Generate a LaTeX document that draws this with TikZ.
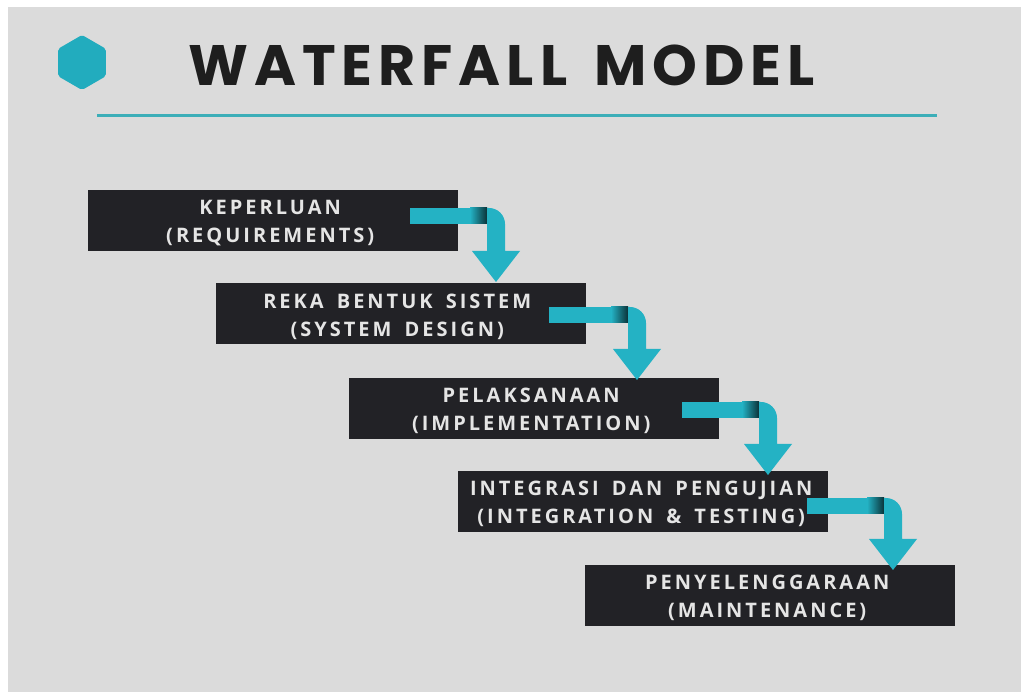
\documentclass[tikz,border=0pt]{standalone}
\usepackage{fontspec}
\setmainfont{Open Sans}
\newfontfamily\titlefont[LetterSpace=10.5,WordSpace=1.5]{Poppins}
\newfontfamily\boxfont[LetterSpace=15,WordSpace=1.6]{Open Sans}
\usetikzlibrary{calc}
\definecolor{bggray}{RGB}{219,219,219}
\definecolor{wfteal}{RGB}{36,178,196}
\definecolor{hexteal}{RGB}{34,172,190}
\definecolor{lineteal}{RGB}{60,174,184}
\definecolor{boxdark}{RGB}{34,34,38}
\definecolor{folddark}{RGB}{10,50,56}
\definecolor{titleink}{RGB}{30,30,30}
\tikzset{
  stepbox/.style={fill=boxdark, draw=none, minimum width=370pt, minimum height=61pt,
    anchor=north west, inner sep=0pt},
  steptext/.style={inner sep=0pt, text=white!90!black, align=center,
    font=\boxfont\bfseries\fontsize{20}{28}\selectfont},
  titletext/.style={font=\titlefont\bfseries\fontsize{57}{60}\selectfont, text=titleink, inner sep=0pt},
}
\newcommand\wfarrow[2]{%
  \fill[wfteal] let \p1=(#1), \p2=(#2) in
    (\x1,\y1) -- (\x2-9pt,\y1) -- (\x2-9pt,\y1-16pt) -- (\x1,\y1-16pt) -- cycle;
  \shade[left color=wfteal, right color=folddark] let \p1=(#1), \p2=(#2) in
    (\x2-26pt,\y1) rectangle (\x2-9pt,\y1-16pt);
  \fill[wfteal] let \p1=(#1), \p2=(#2) in
    (\x2-9pt,\y1) -- (\x2-7pt,\y1) arc[start angle=90, end angle=0, radius=16pt]
    -- (\x2+9pt,\y2+31pt) -- (\x2+24pt,\y2+31pt) -- (\x2,\y2) -- (\x2-24pt,\y2+31pt)
    -- (\x2-9pt,\y2+31pt) -- cycle;
}
\begin{document}
\begin{tikzpicture}[x=1pt,y=1pt]
\useasboundingbox (0,0) rectangle (1021,-692);
\fill[white] (0,0) rectangle (1021,-692);
\fill[bggray] (8,-7) rectangle (1021,-692);
% hexagon
\fill[hexteal, rounded corners=2pt] (82,-35) -- (105.8,-48.75) -- (105.8,-76.25) -- (82,-90) -- (58.2,-76.25) -- (58.2,-48.75) -- cycle;
\node[titletext, anchor=base west] (title) at (188,-86) {WATERFALL MODEL};
\coordinate (ruleL) at (97,-116);
\coordinate (ruleR) at (937,-116);
\draw[lineteal, line width=3pt] (ruleL) -- (ruleR);
% boxes
\node[stepbox] (b1) at (88,-190) {};
\node[stepbox] (b2) at (216,-283) {};
\node[stepbox] (b3) at (349,-378) {};
\node[stepbox] (b4) at (458,-471) {};
\node[stepbox] (b5) at (585,-565) {};
\node[steptext] (t1) at ($(b1.center)+(-3,-2.5)$) {KEPERLUAN\\(REQUIREMENTS)};
\node[steptext] (t2) at ($(b2.center)+(-4,-3)$) {REKA BENTUK SISTEM\\(SYSTEM DESIGN)};
\node[steptext] (t3) at ($(b3.center)+(-3,-2.5)$) {PELAKSANAAN\\(IMPLEMENTATION)};
\node[steptext] (t4) at ($(b4.center)+(-2,-2.5)$) {INTEGRASI DAN PENGUJIAN\\(INTEGRATION \& TESTING)};
\node[steptext] (t5) at ($(b5.center)+(-3,-2.5)$) {PENYELENGGARAAN\\(MAINTENANCE)};
% arrow anchors
\coordinate (a1s) at ($(b1.north east)+(-48,-18)$);
\coordinate (a1t) at ($(b2.north west)+(280,1)$);
\coordinate (a2s) at ($(b2.north east)+(-37,-24)$);
\coordinate (a2t) at ($(b3.north west)+(288,-2)$);
\coordinate (a3s) at ($(b3.north east)+(-37,-24)$);
\coordinate (a3t) at ($(b4.north west)+(310,-4)$);
\coordinate (a4s) at ($(b4.north east)+(-21,-27)$);
\coordinate (a4t) at ($(b5.north west)+(308,-5)$);
\wfarrow{a1s}{a1t}
\wfarrow{a2s}{a2t}
\wfarrow{a3s}{a3t}
\wfarrow{a4s}{a4t}
\end{tikzpicture}
\end{document}
